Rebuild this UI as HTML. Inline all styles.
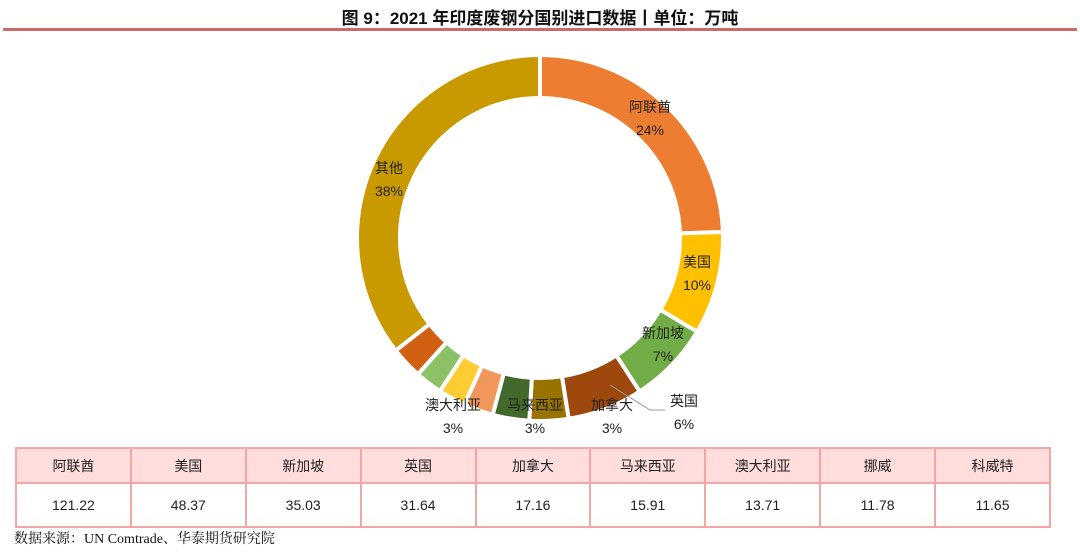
<!DOCTYPE html>
<html><head><meta charset="utf-8"><style>
body{margin:0;width:1080px;height:554px;background:#fff;font-family:"Liberation Sans","Noto Sans CJK SC",sans-serif;position:relative;overflow:hidden}
#title{position:absolute;top:4px;left:0;width:1080px;text-align:center;font-size:17px;font-weight:bold;color:#111}
#rule{position:absolute;top:28px;left:3px;width:1074px;height:3px;background:#c96b6b}
table{position:absolute;left:15px;top:447px;width:1036px;border-collapse:collapse;font-size:14px;color:#222;table-layout:fixed}
td{border:2px solid #f2a7a7;text-align:center}
tr.h td{background:#fdd;height:31px}
tr.d td{height:40px}
#src{position:absolute;left:14px;top:528px;font-size:14px;color:#111;font-family:"Liberation Serif","Noto Serif CJK SC",serif}
svg text{font-family:"Liberation Sans","Noto Sans CJK SC",sans-serif;font-size:14px;fill:#222;text-anchor:middle}
</style></head><body>
<div id="title">图 9：2021 年印度废钢分国别进口数据丨单位：万吨</div>
<div id="rule"></div>
<svg id="chart" width="1080" height="445" style="position:absolute;left:0;top:0"></svg>
<table>
<tr class="h"><td>阿联酋</td><td>美国</td><td>新加坡</td><td>英国</td><td>加拿大</td><td>马来西亚</td><td>澳大利亚</td><td>挪威</td><td>科威特</td></tr>
<tr class="d"><td>121.22</td><td>48.37</td><td>35.03</td><td>31.64</td><td>17.16</td><td>15.91</td><td>13.71</td><td>11.78</td><td>11.65</td></tr>
</table>
<div id="src">数据来源：UN Comtrade、华泰期货研究院</div>
<script>
const categories=["阿联酋","美国","新加坡","英国","加拿大","马来西亚","澳大利亚","挪威","科威特","其他小国","其他"];
const values=[121.22,45,36,33,17,16,13,12,12,14,176];
const colors=["#ED7D31","#FFC000","#70AD47","#9E480E","#997300","#43682B","#F1975A","#FFCD33","#8CC168","#D26012","#C99A00"];
const labels=[["阿联酋","24%",650,107],["美国","10%",697,262],["新加坡","7%",663,333],["英国","6%",684,401],["加拿大","3%",612,405],["马来西亚","3%",535,405],["澳大利亚","3%",453,405],null,null,null,["其他","38%",389,168]];
const svg=document.getElementById('chart');const NS="http://www.w3.org/2000/svg";
const cx=540,cy=238,R=183,r=140;
const total=values.reduce((a,b)=>a+b,0);
let a0=0;
function pt(rad,ang){return [cx+rad*Math.sin(ang),cy-rad*Math.cos(ang)];}
values.forEach((v,i)=>{
 const a1=a0+v/total*2*Math.PI;
 const [x1,y1]=pt(R,a0),[x2,y2]=pt(R,a1),[x3,y3]=pt(r,a1),[x4,y4]=pt(r,a0);
 const lg=(a1-a0)>Math.PI?1:0;
 const p=document.createElementNS(NS,'path');
 p.setAttribute('d',`M${x1},${y1}A${R},${R} 0 ${lg} 1 ${x2},${y2}L${x3},${y3}A${r},${r} 0 ${lg} 0 ${x4},${y4}Z`);
 p.setAttribute('fill',colors[i]);p.setAttribute('stroke','#fff');p.setAttribute('stroke-width','4');
 
 
 svg.appendChild(p);
 a0=a1;
});
const ln=document.createElementNS(NS,'polyline');
ln.setAttribute('points','610,385 650,410 665,410');ln.setAttribute('fill','none');ln.setAttribute('stroke','#999');


svg.appendChild(ln);
labels.forEach((l,i)=>{if(!l)return;
 [[l[0],l[3]+5],[l[1],l[3]+28]].forEach((s,k)=>{
  const t=document.createElementNS(NS,'text');t.setAttribute('x',l[2]);t.setAttribute('y',s[1]);t.textContent=s[0];
  
  
  svg.appendChild(t);});
});
</script>
</body></html>
